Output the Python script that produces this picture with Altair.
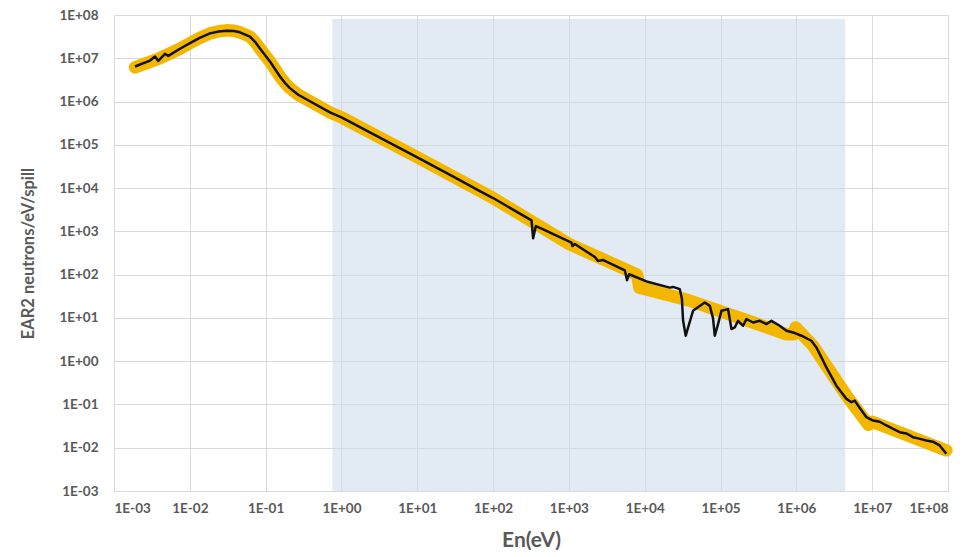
import altair as alt
import pandas as pd
import numpy as np

# ---- data (log10 of energy in eV, log10 of flux) ----
black_log_e = [-2.723, -2.525, -2.459, -2.416, -2.328, -2.284, -2.13, -1.998, -1.87, -1.734,
               -1.62, -1.514, -1.42, -1.339, -1.207, -1.14, -1.075, -0.943, -0.811, -0.74, -0.68,
               -0.57, -0.152, 0.0, 0.5, 1.0, 1.5,
               1.825, 2.0, 2.507, 2.528, 2.564, 2.682, 3.034, 3.047, 3.078, 3.342, 3.385, 3.447,
               3.737, 3.767, 3.794, 4.023, 4.33, 4.374, 4.462, 4.49, 4.506, 4.541, 4.572, 4.637, 4.792,
               4.858, 4.9, 4.924, 4.967, 5.012, 5.099, 5.144, 5.187, 5.231, 5.297, 5.341, 5.429,
               5.517, 5.605, 5.671, 5.78, 5.869, 5.956, 6.067, 6.198, 6.264, 6.396, 6.528,
               6.66, 6.726, 6.769, 6.813, 6.924, 7.011, 7.1, 7.187, 7.27, 7.363, 7.45, 7.538,
               7.62, 7.715, 7.8, 7.89, 7.978]
black_log_flux = [6.81, 6.947, 7.039, 6.94, 7.101, 7.055, 7.22, 7.35, 7.47, 7.576,
                  7.62, 7.638, 7.63, 7.60, 7.50, 7.38, 7.224, 6.924, 6.578, 6.42, 6.31,
                  6.157, 5.749, 5.634, 5.17, 4.712, 4.24,
                  3.929, 3.77, 3.253, 2.839, 3.122, 3.03, 2.737, 2.661, 2.707, 2.408, 2.316, 2.339,
                  2.101, 1.871, 2.009, 1.843, 1.70, 1.716, 1.664, 1.45, 0.933, 0.588, 0.779, 1.164, 1.355,
                  1.279, 1.0, 0.588, 0.857, 1.164, 1.203, 0.742, 0.779, 0.933, 0.818, 0.972, 0.894,
                  0.933, 0.857, 0.933, 0.818, 0.703, 0.664, 0.588, 0.472, 0.318, -0.143, -0.565,
                  -0.871, -0.949, -0.91, -1.025, -1.295, -1.371, -1.40, -1.486, -1.56, -1.64, -1.67,
                  -1.756, -1.79, -1.832, -1.86, -1.947, -2.138]

yellow_log_e = [-2.723, -2.4, -2.13, -1.998, -1.87, -1.734, -1.62, -1.514, -1.42, -1.339, -1.207,
                -1.14, -1.075, -0.943, -0.811, -0.74, -0.68, -0.57, -0.152, 0.0, 1.0, 2.0, 3.0,
                3.90, 3.93, 4.57, 5.43, 5.87, 5.96, 5.99, 6.22, 6.66, 6.95, 7.0, 7.978]
yellow_log_flux = [6.79, 7.0, 7.22, 7.35, 7.47, 7.576, 7.625, 7.645, 7.635, 7.60, 7.50,
                   7.38, 7.224, 6.924, 6.578, 6.42, 6.31, 6.157, 5.749, 5.634, 4.712, 3.77, 2.71,
                   2.0, 1.70, 1.41, 0.894, 0.62, 0.62, 0.78, 0.357, -0.795, -1.47, -1.40, -2.06]

# shaded band (energy limits and flux limits)
band_e = [0.76, 4.4e6]
band_flux = [1e-3, 8.1e7]

tick_values = [1e-3, 1e-2, 1e-1, 1e0, 1e1, 1e2, 1e3, 1e4, 1e5, 1e6, 1e7, 1e8]
tick_labels = ["1E-03", "1E-02", "1E-01", "1E+00", "1E+01", "1E+02", "1E+03",
               "1E+04", "1E+05", "1E+06", "1E+07", "1E+08"]

black_df = pd.DataFrame({"E": 10 ** np.array(black_log_e), "F": 10 ** np.array(black_log_flux),
                         "i": range(len(black_log_e))})
yellow_df = pd.DataFrame({"E": 10 ** np.array(yellow_log_e), "F": 10 ** np.array(yellow_log_flux),
                          "i": range(len(yellow_log_e))})
band_df = pd.DataFrame({"x": [band_e[0]], "x2": [band_e[1]], "y": [band_flux[0]], "y2": [band_flux[1]]})

expr = ""
for v, lab in zip(tick_values, tick_labels):
    k = int(round(np.log10(v)))
    expr += f"abs(log(datum.value)/LN10 - ({k})) < 0.01 ? '{lab}' : "
expr += "''"

FONT = "Lato"
GREY = "#595959"

xscale = alt.Scale(type="log", domain=[1e-3, 1e8], nice=False)
yscale = alt.Scale(type="log", domain=[1e-3, 1e8], nice=False)

xaxis = alt.Axis(values=tick_values, labelExpr=expr, title="En(eV)", grid=True,
                 labelPadding=10, titlePadding=15, titleFontSize=21, labelFontSize=13.5)
yaxis = alt.Axis(values=tick_values, labelExpr=expr, title="EAR2 neutrons/eV/spill", grid=True,
                 labelPadding=16, titlePadding=22, titleFontSize=16.5, labelFontSize=13.5)

band = alt.Chart(band_df).mark_rect(color="#cbd9ea", opacity=0.55).encode(
    x=alt.X("x:Q", scale=xscale, axis=xaxis),
    x2="x2:Q",
    y=alt.Y("y:Q", scale=yscale, axis=yaxis),
    y2="y2:Q",
)

yellow = alt.Chart(yellow_df).mark_line(color="#f4b700", strokeWidth=12.5, strokeCap="round",
                                        strokeJoin="round").encode(
    x=alt.X("E:Q", scale=xscale),
    y=alt.Y("F:Q", scale=yscale),
    order="i:Q",
)

black = alt.Chart(black_df).mark_line(color="#111111", strokeWidth=2.5, strokeJoin="round").encode(
    x=alt.X("E:Q", scale=xscale),
    y=alt.Y("F:Q", scale=yscale),
    order="i:Q",
)

chart = alt.layer(band, yellow, black).properties(
    width=834, height=476, autosize="none",
    padding={"left": 106, "top": 7, "right": 19, "bottom": 65},
).configure_view(stroke=None).configure_axis(
    domain=False, ticks=False, gridColor="#d9d9d9", gridWidth=1,
    labelFont=FONT, titleFont=FONT, labelFontWeight="bold", titleFontWeight="bold",
    labelColor=GREY, titleColor=GREY,
)

chart.save("out.html", embed_options={"renderer": "svg", "actions": False})
